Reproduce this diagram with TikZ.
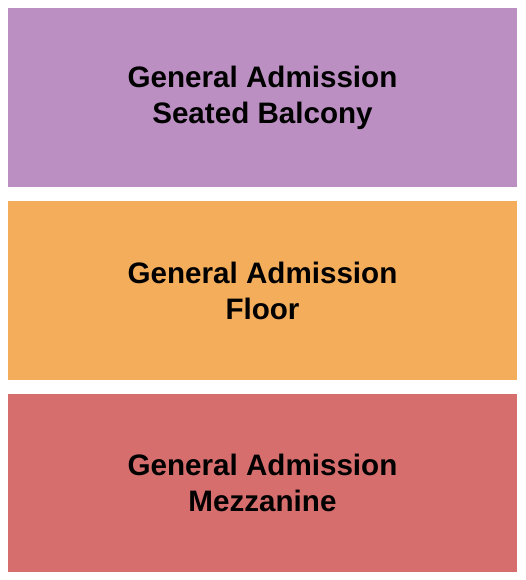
\documentclass[tikz,border=0pt]{standalone}
\usepackage{fontspec}
\setmainfont{Liberation Sans}
\usetikzlibrary{positioning}

\definecolor{balconyc}{HTML}{BC8FC3}
\definecolor{floorc}{HTML}{F4AE5B}
\definecolor{mezzc}{HTML}{D66E6E}

\begin{document}
\begin{tikzpicture}[x = 1pt, y = 1pt,
  section/.style = {minimum width = 509pt, minimum height = 179pt, inner sep = 0pt,
    align = center, font = \bfseries\fontsize{29.6}{36}\selectfont}]

% frame
\useasboundingbox (0,0) rectangle (525,580);

% sections
\node[section, fill = balconyc] (balcony) at (262.5,482.5) {General Admission\\Seated Balcony};
\node[section, fill = floorc, below = 14pt of balcony] (floor) {General Admission\\Floor};
\node[section, fill = mezzc, below = 13pt of floor, minimum height = 178pt] (mezzanine) {General Admission\\Mezzanine};

\end{tikzpicture}
\end{document}
